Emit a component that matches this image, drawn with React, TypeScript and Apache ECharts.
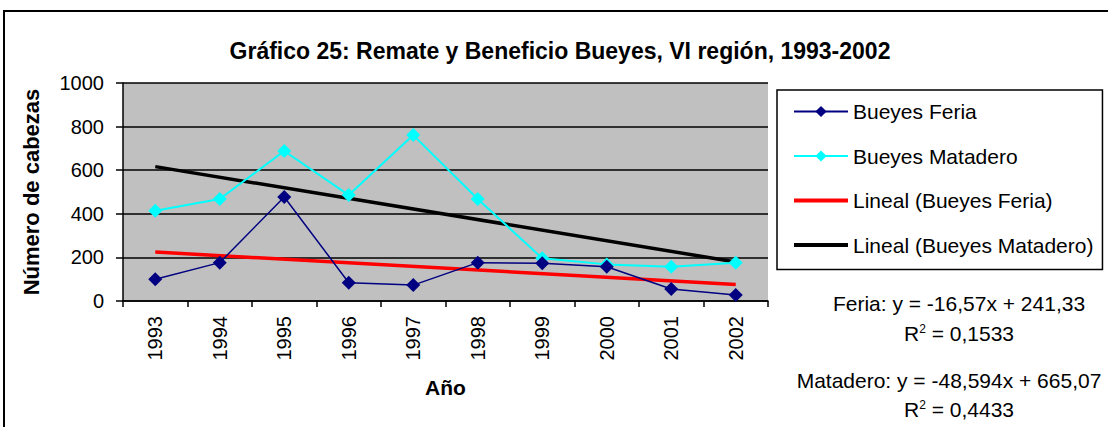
import React, { useEffect, useRef } from "react";
import * as echarts from "echarts";

const years = ["1993", "1994", "1995", "1996", "1997", "1998", "1999", "2000", "2001", "2002"];
const feria = [100, 176, 477, 84, 73, 176, 173, 157, 55, 27];
const matadero = [414, 468, 688, 486, 761, 468, 196, 168, 157, 176];
const trendFeria = [224.8, 75.6];
const trendMatadero = [616.5, 179.1];
const yTicks = { min: 0, max: 1000, interval: 200 };
const eqTexts = [
  "Feria: y = -16,57x + 241,33",
  "{r|R}{s|2}{r| = 0,1533}",
  "Matadero: y = -48,594x + 665,07",
  "{r|R}{s|2}{r| = 0,4433}",
];

const FONT = "'Liberation Sans', Arial, sans-serif";

export default function App() {
  const ref = useRef<HTMLDivElement>(null);
  useEffect(() => {
    if (!ref.current) return;
    const chart = echarts.init(ref.current, undefined, { renderer: "svg" });
    const rich = {
      r: { fontSize: 21, fontFamily: FONT, color: "#000" },
      s: { fontSize: 12, fontFamily: FONT, color: "#000", verticalAlign: "top", padding: [0, 0, 9, 0] },
    };
    chart.setOption({
      animation: false,
      textStyle: { fontFamily: FONT },
      title: {
        text: "Gráfico 25: Remate y Beneficio Bueyes, VI región, 1993-2002",
        left: 555,
        textAlign: "center",
        top: 34,
        textStyle: { fontSize: 23, fontWeight: "bold", color: "#000", fontFamily: FONT },
      },
      grid: {
        left: 123,
        top: 83,
        width: 645,
        height: 218,
        show: true,
        backgroundColor: "#C0C0C0",
        borderWidth: 0,
      },
      legend: {
        orient: "vertical",
        left: 777,
        top: 90,
        padding: [11, 9, 14, 15],
        itemGap: 23.5,
        itemWidth: 54,
        itemHeight: 14,
        borderColor: "#000",
        borderWidth: 1.5,
        backgroundColor: "#fff",
        textStyle: { fontSize: 21, color: "#000", fontFamily: FONT },
        data: [
          { name: "Bueyes Feria" },
          { name: "Bueyes Matadero" },
          { name: "Lineal (Bueyes Feria)", itemStyle: { opacity: 0 }, lineStyle: { width: 4 } },
          { name: "Lineal (Bueyes Matadero)", itemStyle: { opacity: 0 }, lineStyle: { width: 4 } },
        ],
      },
      xAxis: {
        type: "category",
        data: years,
        boundaryGap: true,
        name: "Año",
        nameLocation: "middle",
        nameGap: 76,
        nameTextStyle: { fontSize: 21, fontWeight: "bold", color: "#000", fontFamily: FONT },
        axisLine: { lineStyle: { color: "#000", width: 1.5 } },
        axisTick: { show: true, length: 6, lineStyle: { color: "#000", width: 1.5 } },
        axisLabel: { rotate: 90, fontSize: 20, color: "#000", margin: 15, fontFamily: FONT },
      },
      yAxis: {
        type: "value",
        min: yTicks.min,
        max: yTicks.max,
        interval: yTicks.interval,
        name: "Número de cabezas",
        nameLocation: "middle",
        nameGap: 81,
        nameTextStyle: { fontSize: 22, fontWeight: "bold", color: "#000", fontFamily: FONT },
        axisLine: { show: true, lineStyle: { color: "#000", width: 1.5 } },
        axisTick: { show: true, length: 7, lineStyle: { color: "#000", width: 1.5 } },
        axisLabel: {
          fontSize: 20,
          color: "#000",
          margin: 19,
          fontFamily: FONT,
          formatter: (v: number) => String(v),
        },
        splitLine: { show: true, lineStyle: { color: "#000", width: 1.5 } },
      },
      series: [
        {
          name: "Bueyes Feria",
          type: "line",
          data: feria,
          symbol: "diamond",
          symbolSize: 14,
          itemStyle: { color: "#000080" },
          lineStyle: { color: "#000080", width: 1.5 },
          z: 4,
        },
        {
          name: "Bueyes Matadero",
          type: "line",
          data: matadero,
          symbol: "diamond",
          symbolSize: 14,
          itemStyle: { color: "#00FFFF" },
          lineStyle: { color: "#00FFFF", width: 2 },
          z: 3,
        },
        {
          name: "Lineal (Bueyes Feria)",
          type: "line",
          data: [
            [years[0], trendFeria[0]],
            [years[years.length - 1], trendFeria[1]],
          ],
          symbol: "none",
          itemStyle: { color: "#FF0000" },
          lineStyle: { color: "#FF0000", width: 3.5 },
          z: 2,
        },
        {
          name: "Lineal (Bueyes Matadero)",
          type: "line",
          data: [
            [years[0], trendMatadero[0]],
            [years[years.length - 1], trendMatadero[1]],
          ],
          symbol: "none",
          itemStyle: { color: "#000" },
          lineStyle: { color: "#000", width: 3.5 },
          z: 2,
        },
      ],
      graphic: [
        {
          type: "rect",
          shape: { x: 4, y: 11, width: 1120, height: 430 },
          style: { fill: "none", stroke: "#000", lineWidth: 2 },
          silent: true,
          z: -1,
        },
        {
          type: "text",
          x: 959,
          y: 303,
          style: { text: eqTexts[0], fontSize: 21, fontFamily: FONT, fill: "#000", align: "center", verticalAlign: "middle" },
        },
        {
          type: "text",
          x: 959,
          y: 333,
          style: { text: eqTexts[1], rich, align: "center", verticalAlign: "middle" },
        },
        {
          type: "text",
          x: 949,
          y: 380,
          style: { text: eqTexts[2], fontSize: 21, fontFamily: FONT, fill: "#000", align: "center", verticalAlign: "middle" },
        },
        {
          type: "text",
          x: 959,
          y: 409,
          style: { text: eqTexts[3], rich, align: "center", verticalAlign: "middle" },
        },
      ],
    });
    return () => chart.dispose();
  }, []);
  return (
    <div
      ref={ref}
      style={{ position: "fixed", left: 0, top: 0, width: 1108, height: 427, background: "#fff" }}
    />
  );
}
